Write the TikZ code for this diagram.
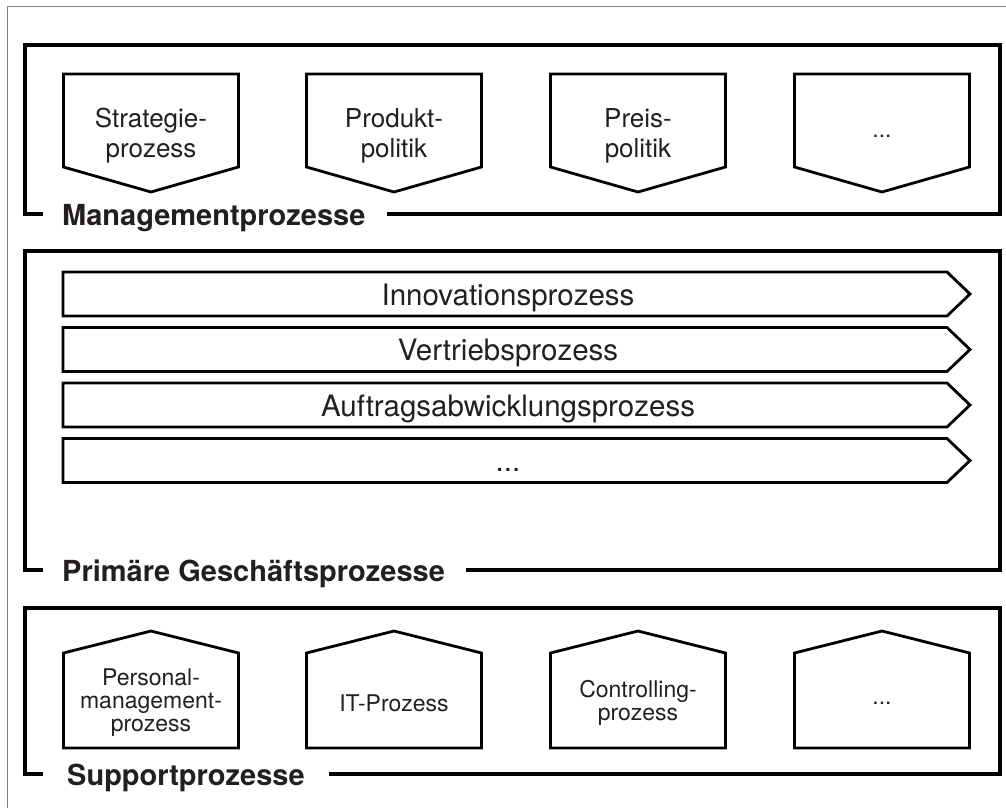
\documentclass[tikz,border=0pt]{standalone}
\usepackage{fontspec}
\setmainfont{TeX Gyre Heros}
\usetikzlibrary{calc}
\definecolor{inkgray}{RGB}{35, 31, 32}
\newcommand{\threedots}{...}

\begin{document}
\begin{tikzpicture}[
  x=1pt, y=-1pt,
  every node/.style={font=\fontsize{26}{30}\selectfont, text=inkgray, align=center, inner sep=0pt},
  panel/.style={line width=3.6pt, line join=miter},
  proc/.style={line width=2.8pt, line join=miter},
  paneltitle/.style={font=\fontsize{29}{33}\selectfont\bfseries, anchor=base west},
  bigtext/.style={font=\fontsize{29.5}{33}\selectfont},
  smalltext/.style={font=\fontsize{23}{23}\selectfont}
]

  \useasboundingbox (0,0) rectangle (1006,808);
  \draw[gray, line width=1pt] (7,808) -- (7,7) -- (1006,7);

  % Managementprozesse
  \node[paneltitle] (mgmt) at (62,225) {Managementprozesse};
  \draw[panel] ($(mgmt.base west)+(-19,-11)$) -- (25,214) -- (25,45) -- (1000,45) -- (1000,214) -- ($(mgmt.base east)+(21,-11)$);
  \foreach \cx/\txt [count=\i] in {151/{Strategie-\\prozess}, 394/{Produkt-\\politik}, 638/{Preis-\\politik}} {
    \draw[proc] (\cx-87.5,74) -- (\cx+87.5,74) -- (\cx+87.5,167) -- (\cx,192) -- (\cx-87.5,167) -- cycle;
    \node (mp\i) at (\cx,136) {\txt};
  }
  \draw[proc] (794.5,74) -- (969.5,74) -- (969.5,167) -- (882,192) -- (794.5,167) -- cycle;
  \node[smalltext, anchor=base] (mp4) at (882,137) {\threedots};

  % Primaere Geschaeftsprozesse
  \node[paneltitle] (prim) at (62,581) {Primäre Geschäftsprozesse};
  \draw[panel] ($(prim.base west)+(-19,-11)$) -- (25,570) -- (25,251) -- (1000,251) -- (1000,570) -- ($(prim.base east)+(21,-11)$);
  \foreach \y/\txt [count=\i] in {272/Innovationsprozess, 327.5/Vertriebsprozess, 383/Auftragsabwicklungsprozess, 438.5/\threedots} {
    \draw[proc] (63,\y) -- (947,\y) -- (970,\y+22) -- (947,\y+44) -- (63,\y+44) -- cycle;
    \node[bigtext, anchor=base] (gp\i) at (508,\y+33) {\txt};
  }

  % Supportprozesse
  \node[paneltitle] (supp) at (67,785) {Supportprozesse};
  \draw[panel] ($(supp.base west)+(-24,-11)$) -- (25,774) -- (25,608) -- (1000,608) -- (1000,774) -- ($(supp.base east)+(24,-11)$);
  \foreach \cx/\txt [count=\i] in {151/{Personal-\\management-\\prozess}, 394/IT-Prozess, 638/{Controlling-\\prozess}, 882/\threedots} {
    \draw[proc] (\cx-87.5,748) -- (\cx-87.5,653) -- (\cx,631) -- (\cx+87.5,653) -- (\cx+87.5,748) -- cycle;
    \node[smalltext] (sp\i) at (\cx,703) {\txt};
  }

\end{tikzpicture}
\end{document}
